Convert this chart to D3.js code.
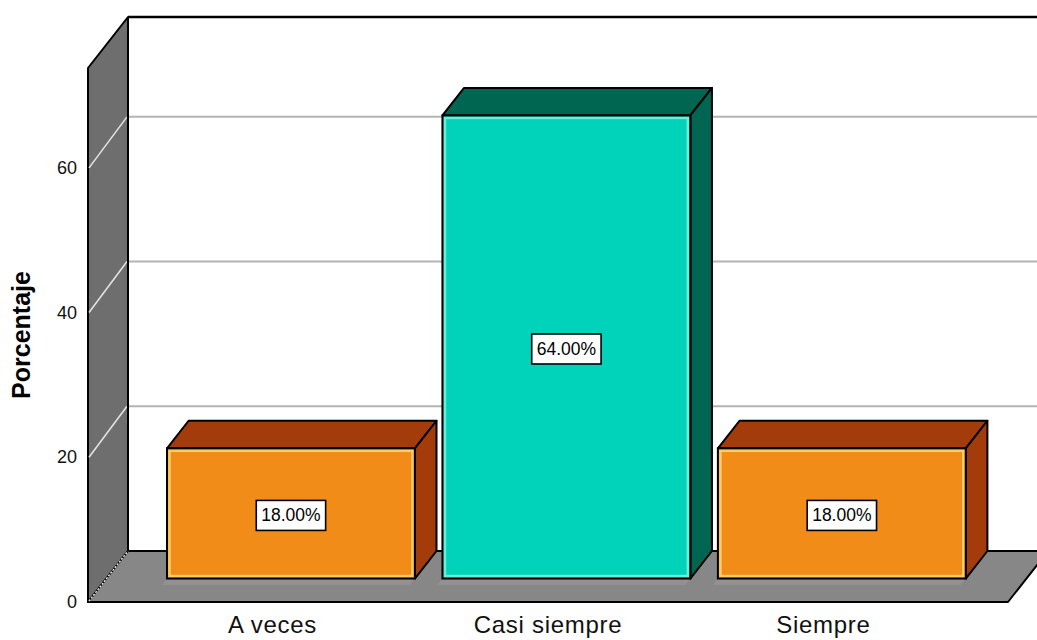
<!DOCTYPE html>
<html>
<head>
<meta charset="utf-8">
<script src="https://cdn.jsdelivr.net/npm/d3@7"></script>
<style>
  html, body { margin: 0; padding: 0; background: #ffffff; }
  svg { display: block; }
  text { font-family: Arial, "Liberation Sans", sans-serif; }
</style>
</head>
<body>
<svg id="chart" width="1037" height="640"></svg>
<script>
// Response categories and their share of answers (%)
const categories = ["A veces", "Casi siempre", "Siempre"];
const percentages = [18, 64, 18];
const valueLabels = ["18.00%", "64.00%", "18.00%"];
const yTicks = [0, 20, 40, 60];
const yTickLabels = ["0", "20", "40", "60"];
const axisTitle = "Porcentaje";

// Per-bar colours: front face, top/side faces, inner highlight
const palette = [
  { front: "#F28C18", dark: "#A33C0A", glow: "#FFD873" },
  { front: "#00D3BA", dark: "#006651", glow: "#7DF2E2" },
  { front: "#F28C18", dark: "#A33C0A", glow: "#FFD873" }
];

const svg = d3.select("#chart");

// Front plane of the 3-D box
const frontLeft = 88, frontRight = 1008;
const frontBottom = 602, frontTop = 68;
// Depth vector of the box (front plane -> back wall)
const DX = 40, DY = 51;
// Bars occupy this slice of the depth
const barFront = 0.46, barBack = 1.0;

const x = d3.scaleBand()
  .domain(categories)
  .range([frontLeft, frontRight])
  .paddingInner(0.1)
  .paddingOuter(0.22);

const yMax = 73.8;
const y = d3.scaleLinear().domain([0, yMax]).range([frontBottom, frontTop]);

// Project a point (screen x on the front plane, value, depth fraction)
const P = (px, v, f) => [px + f * DX, y(v) - f * DY];
const poly = pts => "M" + pts.map(p => p.join(",")).join("L") + "Z";

// Back wall
const bw = svg.append("g");
bw.append("rect")
  .attr("x", frontLeft + DX).attr("y", y(yMax) - DY)
  .attr("width", 2000).attr("height", y(0) - y(yMax))
  .attr("fill", "#ffffff");
bw.selectAll("line.grid")
  .data(yTicks.filter(t => t > 0))
  .join("line")
  .attr("class", "grid")
  .attr("x1", frontLeft + DX + 1).attr("x2", 1100)
  .attr("y1", d => y(d) - DY).attr("y2", d => y(d) - DY)
  .attr("stroke", "#b4b4b4").attr("stroke-width", 2);
bw.append("line")
  .attr("x1", frontLeft + DX).attr("x2", 1100)
  .attr("y1", y(yMax) - DY).attr("y2", y(yMax) - DY)
  .attr("stroke", "#000").attr("stroke-width", 2.5);

// Left side wall
const lw = svg.append("g");
lw.append("path")
  .attr("d", poly([P(frontLeft, yMax, 0), P(frontLeft, yMax, 1), P(frontLeft, 0, 1), P(frontLeft, 0, 0)]))
  .attr("fill", "#6e6e6e").attr("stroke", "#000").attr("stroke-width", 2)
  .attr("stroke-linejoin", "round");
lw.selectAll("line.sgrid")
  .data(yTicks.filter(t => t > 0))
  .join("line")
  .attr("class", "sgrid")
  .attr("x1", d => P(frontLeft, d, 0)[0] + 1).attr("y1", d => P(frontLeft, d, 0)[1])
  .attr("x2", d => P(frontLeft, d, 1)[0] - 1).attr("y2", d => P(frontLeft, d, 1)[1])
  .attr("stroke", "#e2e2e2").attr("stroke-width", 1.6);

// Floor
const fl = svg.append("g");
fl.append("path")
  .attr("d", poly([P(frontLeft, 0, 0), P(frontLeft, 0, 1), P(frontRight, 0, 1), P(frontRight, 0, 0)]))
  .attr("fill", "#878787").attr("stroke", "#000").attr("stroke-width", 2)
  .attr("stroke-linejoin", "round");
fl.append("line")
  .attr("x1", P(frontLeft, 0, 0)[0] + 1).attr("y1", P(frontLeft, 0, 0)[1] - 1)
  .attr("x2", P(frontLeft, 0, 1)[0]).attr("y2", P(frontLeft, 0, 1)[1])
  .attr("stroke", "#e6e6e6").attr("stroke-width", 1.5)
  .attr("stroke-dasharray", "2,1.5");
// corner edge of back wall
svg.append("line")
  .attr("x1", frontLeft + DX).attr("x2", frontLeft + DX)
  .attr("y1", y(yMax) - DY).attr("y2", y(0) - DY)
  .attr("stroke", "#000").attr("stroke-width", 2);

// Bars
const bars = svg.append("g");
const data = categories.map((c, i) => ({ c, v: percentages[i], label: valueLabels[i], col: palette[i] }));

data.forEach(d => {
  const x0 = x(d.c), x1 = x(d.c) + x.bandwidth();
  const g = bars.append("g");
  // soft shadow on the floor
  g.append("path")
    .attr("d", poly([P(x0, 0, barFront), P(x1, 0, barFront), P(x1, 0, barFront - 0.12), P(x0, 0, barFront - 0.12)]))
    .attr("fill", "#9a9a9a").attr("opacity", 0.6);
  // top face
  g.append("path")
    .attr("d", poly([P(x0, d.v, barFront), P(x0, d.v, barBack), P(x1, d.v, barBack), P(x1, d.v, barFront)]))
    .attr("fill", d.col.dark).attr("stroke", "#000").attr("stroke-width", 2)
    .attr("stroke-linejoin", "round");
  // right side face
  g.append("path")
    .attr("d", poly([P(x1, d.v, barFront), P(x1, d.v, barBack), P(x1, 0, barBack), P(x1, 0, barFront)]))
    .attr("fill", d.col.dark).attr("stroke", "#000").attr("stroke-width", 2)
    .attr("stroke-linejoin", "round");
  // front face
  const [fx0, fyTop] = P(x0, d.v, barFront);
  const [fx1, fyBot] = P(x1, 0, barFront);
  g.append("rect")
    .attr("x", fx0).attr("y", fyTop)
    .attr("width", fx1 - fx0).attr("height", fyBot - fyTop)
    .attr("fill", d.col.front);
  g.append("rect")
    .attr("x", fx0 + 2.5).attr("y", fyTop + 2.5)
    .attr("width", fx1 - fx0 - 5).attr("height", fyBot - fyTop - 5)
    .attr("fill", "none").attr("stroke", d.col.glow).attr("stroke-width", 2.5)
    .attr("opacity", 0.85);
  g.append("rect")
    .attr("x", fx0).attr("y", fyTop)
    .attr("width", fx1 - fx0).attr("height", fyBot - fyTop)
    .attr("fill", "none").attr("stroke", "#000").attr("stroke-width", 2);

  // value label box
  const cx = (fx0 + fx1) / 2, cy = (fyTop + fyBot) / 2 + 2;
  const t = g.append("text")
    .attr("x", cx).attr("y", cy)
    .attr("text-anchor", "middle").attr("dominant-baseline", "central")
    .attr("font-size", 17.5).attr("fill", "#000")
    .text(d.label);
  const bb = t.node().getBBox();
  g.insert("rect", "text")
    .attr("x", bb.x - 5).attr("y", cy - 15)
    .attr("width", bb.width + 10).attr("height", 30)
    .attr("fill", "#fff").attr("stroke", "#000").attr("stroke-width", 1.6);
});

// Y axis tick labels (front plane)
svg.append("g")
  .selectAll("text")
  .data(yTicks)
  .join("text")
  .attr("x", 77).attr("y", d => y(d))
  .attr("text-anchor", "end").attr("dominant-baseline", "central")
  .attr("font-size", 18).attr("fill", "#111")
  .text((d, i) => yTickLabels[i]);

// Axis title
svg.append("text")
  .attr("transform", `translate(30,${(268 + 402) / 2}) rotate(-90)`)
  .attr("text-anchor", "middle")
  .attr("font-size", 25).attr("font-weight", "bold").attr("fill", "#000")
  .text(axisTitle);

// Category labels
svg.append("g")
  .selectAll("text")
  .data(categories)
  .join("text")
  .attr("x", d => x(d) + x.bandwidth() / 2)
  .attr("y", 633)
  .attr("text-anchor", "middle")
  .attr("font-size", 24).attr("letter-spacing", 0.7).attr("fill", "#111")
  .text(d => d);
</script>
</body>
</html>
